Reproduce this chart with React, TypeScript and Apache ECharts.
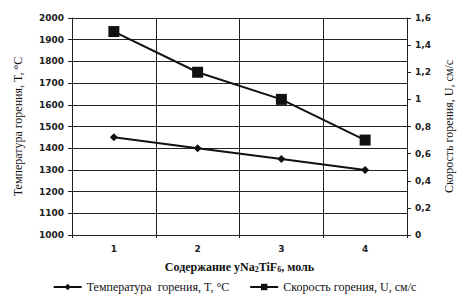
import React, { useEffect, useRef } from "react";
import * as echarts from "echarts";

const categories = [1, 2, 3, 4];
const temperature = [1450, 1400, 1350, 1300];
const speed = [1.5, 1.2, 1.0, 0.7];
const leftTicks = { min: 1000, max: 2000, interval: 100 };
const rightTicks = { min: 0, max: 1.6, interval: 0.2 };
const tempName = "Температура  горения, T, °C";
const speedName = "Скорость горения, U, см/с";

export default function App() {
  const ref = useRef<HTMLDivElement>(null);
  useEffect(() => {
    const chart = echarts.init(ref.current!, null, { renderer: "svg" });
    const labelStyle = {
      fontFamily: "DejaVu Sans",
      fontWeight: "bold" as const,
      fontSize: 9,
      color: "#222",
    };
    const lineColor = "#222";
    const gridColor = "#222";
    chart.setOption({
      animation: false,
      backgroundColor: "#fff",
      grid: { left: 72, right: 62, top: 18, bottom: 68 },
      legend: {
        bottom: 5,
        left: "center",
        itemWidth: 28,
        itemHeight: 8,
        itemGap: 20,
        textStyle: { fontFamily: "Liberation Serif", fontSize: 12, color: "#111" },
        data: [tempName, speedName],
      },
      xAxis: {
        type: "value",
        min: 0.5,
        max: 4.5,
        interval: 0.5,
        name: "{n|Содержание yNa}{s|2}{n|TiF}{s|6}{n|, моль}",
        nameLocation: "middle",
        nameGap: 25,
        nameTextStyle: {
          rich: {
            n: { fontFamily: "Liberation Serif", fontWeight: "bold", fontSize: 12, color: "#111" },
            s: { fontFamily: "Liberation Serif", fontWeight: "bold", fontSize: 8, color: "#111", padding: [5, 0, 0, 0] },
          },
        },
        axisLine: { show: true, lineStyle: { color: lineColor, width: 1 } },
        axisTick: { show: true, customValues: [0.5, 1.5, 2.5, 3.5, 4.5], length: 3, lineStyle: { color: lineColor } },
        axisLabel: { ...labelStyle, customValues: categories, margin: 9 },
        splitLine: { show: true, lineStyle: { color: gridColor, width: 1 } },
      },
      yAxis: [
        {
          type: "value",
          ...leftTicks,
          name: "Температура горения, T, °C",
          nameLocation: "middle",
          nameGap: 48,
          nameRotate: 90,
          nameTextStyle: { fontFamily: "Liberation Serif", fontSize: 12, color: "#111" },
          axisLine: { show: true, lineStyle: { color: lineColor } },
          axisTick: { show: true, length: 4, lineStyle: { color: lineColor } },
          axisLabel: { ...labelStyle, margin: 8, formatter: (v: number) => String(v) },
          splitLine: { show: true, lineStyle: { color: gridColor, width: 1 } },
        },
        {
          type: "value",
          position: "right",
          ...rightTicks,
          name: "Скорость горения, U, см/с",
          nameLocation: "middle",
          nameGap: 36,
          nameRotate: 90,
          nameTextStyle: { fontFamily: "Liberation Serif", fontSize: 12, color: "#111" },
          axisLine: { show: true, lineStyle: { color: lineColor } },
          axisTick: { show: true, length: 4, lineStyle: { color: lineColor } },
          axisLabel: {
            ...labelStyle,
            margin: 8,
            formatter: (v: number) => String(Math.round(v * 10) / 10).replace(".", ","),
          },
          splitLine: { show: false },
        },
      ],
      series: [
        {
          name: tempName,
          type: "line",
          yAxisIndex: 0,
          data: categories.map((c, i) => [c, temperature[i]]),
          symbol: "diamond",
          symbolSize: 8,
          itemStyle: { color: "#111" },
          lineStyle: { color: "#111", width: 2 },
        },
        {
          name: speedName,
          type: "line",
          yAxisIndex: 1,
          data: categories.map((c, i) => [c, speed[i]]),
          symbol: "rect",
          symbolSize: 11,
          itemStyle: { color: "#111" },
          lineStyle: { color: "#111", width: 2 },
        },
      ],
    });
    return () => chart.dispose();
  }, []);
  return <div ref={ref} style={{ width: 469, height: 303, margin: -8 }} />;
}
